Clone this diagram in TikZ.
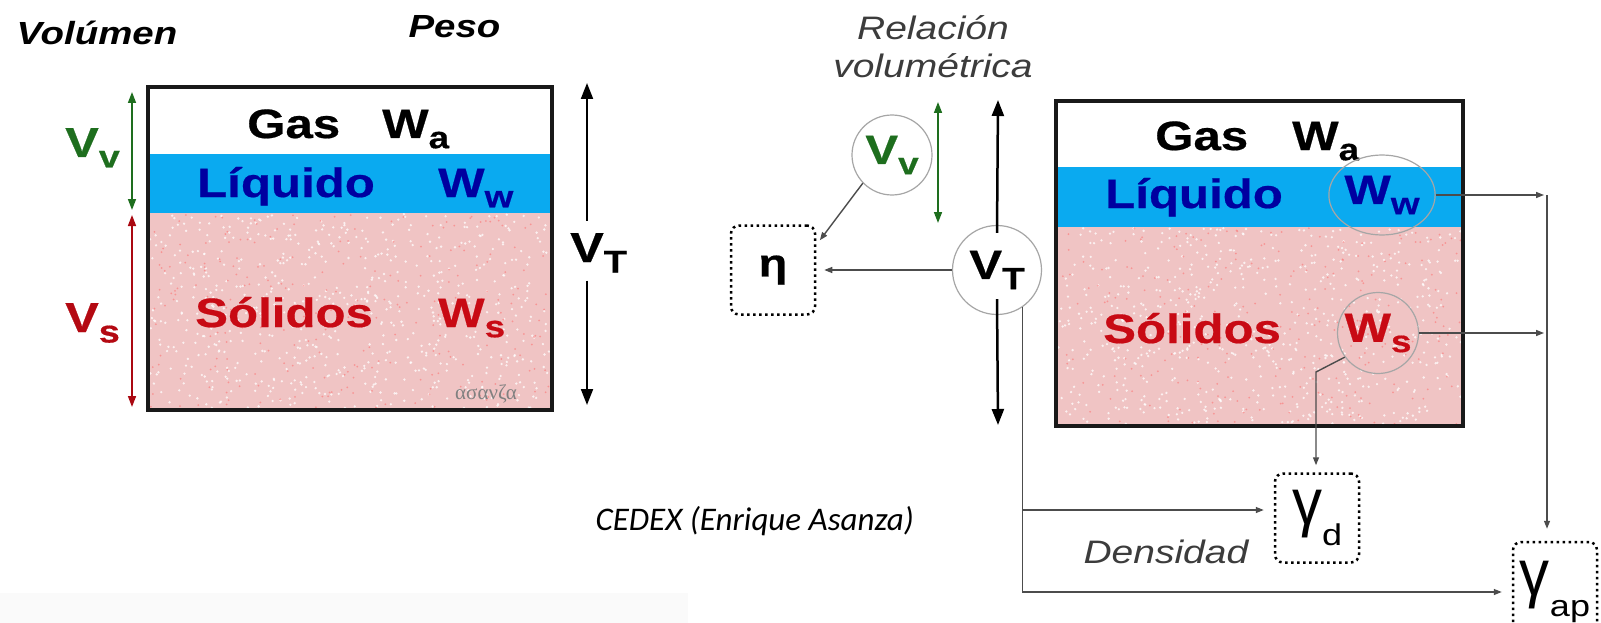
\documentclass[tikz,border=0pt]{standalone}
\usepackage{fontspec}
\usepackage{graphicx}
\setmainfont{Liberation Sans}[FakeStretch=1.2,BoldFeatures={FakeBold=0.5}]
\newfontfamily\calfont{Carlito}
\newfontfamily\grfont{Liberation Serif}
\usetikzlibrary{arrows.meta,shapes.geometric}
\definecolor{vgreen}{RGB}{30,110,30}
\definecolor{liqblue}{RGB}{10,170,240}
\definecolor{liqtext}{RGB}{0,0,160}
\definecolor{solred}{RGB}{200,10,20}
\definecolor{solpink}{RGB}{240,196,196}
\definecolor{txtgray}{RGB}{60,60,60}
\newcommand{\setfs}[1]{\fontsize{#1}{#1}\selectfont}
\newcommand{\sbs}[1]{\raisebox{-0.25em}{\scalebox{0.75}{#1}}}
\newcommand{\gsub}[1]{\raisebox{-0.42em}{\scalebox{0.6}{#1}}}
\newcommand{\tallg}{\scalebox{1}[1.3]{γ}}
% speckled solids layer
\newcommand{\speckle}[4]{%
  \foreach \k in {1,...,650} {\fill[white,opacity=0.75] (#1+#3*rnd,#2+#4*rnd) circle (1.3);}
  \foreach \k in {1,...,250} {\fill[red!60,opacity=0.5] (#1+#3*rnd,#2+#4*rnd) circle (1);}}

\begin{document}
\begin{tikzpicture}[x=1pt,y=-1pt,
    box/.style={draw=black!90,line width=3.5pt},
    lbl/.style={font=\bfseries\setfs{41},inner sep=0pt},
    circ/.style={circle,draw=gray!70,line width=1.2pt,inner sep=0pt,font=\bfseries\setfs{41}},
    dbox/.style={draw,rounded corners=8pt,dash pattern=on 2.5pt off 3.5pt,line width=2.5pt,
      minimum width=84pt,minimum height=89pt,inner sep=0pt},
    link/.style={draw=black!70,line width=1.4pt,-{Triangle[length=8pt,width=6pt]}},
    dimarr/.style={line width=1.6pt,{Triangle[length=11pt,width=8pt]}-{Triangle[length=11pt,width=8pt]}},
    bigarr/.style={line width=2.5pt,-{Triangle[length=16pt,width=12pt]}}]
  \pgfmathsetseed{7}
  \fill[white] (0,0) rectangle (1601,623);
  \useasboundingbox (0,0) rectangle (1601,623);
  \fill[black!2] (0,593) rectangle (688,623);

  % left soil block
  \fill[solpink] (148,213) rectangle (552,410);
  \speckle{150}{214}{400}{194}
  \fill[liqblue] (148,154) rectangle (552,213);
  \draw[box] (148,87) rectangle (552,410);
  \node[anchor=base west,font=\bfseries\itshape\setfs{32}] (vol) at (13,45) {Volúmen};
  \node[anchor=base west,font=\bfseries\itshape\setfs{32}] (peso) at (405,38) {Peso};
  \node[lbl,anchor=base west] (gasl) at (247,138) {Gas};
  \node[lbl,anchor=base west] (wal) at (382,138) {W\sbs{a}};
  \node[lbl,anchor=base west,text=liqtext] (liql) at (197,197) {Líquido};
  \node[lbl,anchor=base west,text=liqtext] (wwl) at (438,197) {W\sbs{w}};
  \node[lbl,anchor=base west,text=solred] (soll) at (195,327) {Sólidos};
  \node[lbl,anchor=base west,text=solred] (wsl) at (438,327) {W\sbs{s}};
  \node[anchor=base west,inner sep=0pt,font=\grfont\setfs{21},text=gray] (sig) at (455,399) {ασανζα};
  \node[lbl,anchor=base west,text=vgreen,font=\bfseries\setfs{42}] (vvl) at (65,157) {V\sbs{v}};
  \node[lbl,anchor=base west,text=solred!90!black,font=\bfseries\setfs{42}] (vsl) at (65,332) {V\sbs{s}};
  \node[lbl,anchor=base west,font=\bfseries\setfs{42}] (vtl) at (570,262) {V\sbs{T}};
  \coordinate (lt) at (587,83);
  \coordinate (lb) at (587,405);
  \draw[dimarr,vgreen] (132,92) -- (132,210);
  \draw[dimarr,solred!85!black] (132,215) -- (132,407);
  \draw[bigarr,line width=2pt] ([yshift=12pt]lt |- vtl.north) -- (lt);
  \draw[bigarr,line width=2pt] ([yshift=-8pt]lt |- vtl.south) -- (lb);

  % right soil block
  \fill[solpink] (1056,227) rectangle (1463,426);
  \speckle{1058}{228}{403}{196}
  \fill[liqblue] (1056,167) rectangle (1463,227);
  \draw[box] (1056,101) rectangle (1463,426);
  \node[lbl,anchor=base west] (gasr) at (1155,150) {Gas};
  \node[lbl,anchor=base west] (war) at (1292,150) {W\sbs{a}};
  \node[lbl,anchor=base west,text=liqtext] (liqr) at (1105,208) {Líquido};
  \node[lbl,anchor=base west,text=solred] (solr) at (1103,343) {Sólidos};
  \node[circ,ellipse,minimum width=95pt,minimum height=80pt,text=liqtext] (ww) at (1382,195) {W\sbs{w}};
  \node[circ,minimum size=81pt,text=solred] (ws) at (1378,333) {W\sbs{s}};

  % relations
  \node[anchor=base,font=\itshape\setfs{32.5},text=txtgray] (rel1) at (933,40) {Relación};
  \node[anchor=base,font=\itshape\setfs{32.5},text=txtgray] (rel2) at (933,78) {volumétrica};
  \node[circ,minimum size=80pt,text=vgreen] (vv) at (892,155) {V\sbs{v}};
  \node[circ,minimum size=89pt] (vt) at (997,270) {V\sbs{T}};
  \node[dbox,font=\bfseries\setfs{39}] (eta) at (773,270) {η};
  \node[dbox,font=\setfs{50}] (gd) at (1317,518) {\tallg\gsub{d}};
  \node[dbox,minimum height=100pt,font=\setfs{50}] (gap) at (1555,592) {\tallg\gsub{ap}};
  \node[anchor=base west,font=\itshape\setfs{32.5},text=txtgray] (dens) at (1080,563) {Densidad};
  \node[anchor=base west,font=\calfont\itshape\setfs{33}] (cedex) at (592,530) {CEDEX (Enrique Asanza)};

  \coordinate (gvt) at (938,102);
  \coordinate (gvb) at (938,223);
  \coordinate (mt) at (998,100);
  \coordinate (mb) at (998,425);
  \coordinate (jw) at (1547,195);
  \coordinate (js) at (1547,333);
  \coordinate (kd) at (1316,372);
  \coordinate (jd) at (1022,510);
  \draw[dimarr,vgreen] (gvt) -- (gvb);
  \draw[bigarr] ([yshift=-8pt]vt.north) -- (mt);
  \draw[bigarr] ([yshift=16pt]vt.south) -- (mb);
  \draw[link,shorten >=8pt] (vt.west) -- (eta.east);
  \draw[link,shorten >=6pt] (vv.224) -- (eta.30);
  \draw[link,shorten >=3pt] (ww.east) -- (jw);
  \draw[link,shorten >=3pt] (ws.east) -- (js);
  \draw[link,shorten >=12pt] (jw) -- (jw |- gap.north);
  \draw[link,shorten >=7pt] (ws.216) -- (kd) -- (kd |- gd.north);
  \draw[link,shorten >=10pt] (vt.-56) |- (gap.west);
  \draw[link,shorten >=10pt] (jd) -- (jd -| gd.west);
\end{tikzpicture}
\end{document}
